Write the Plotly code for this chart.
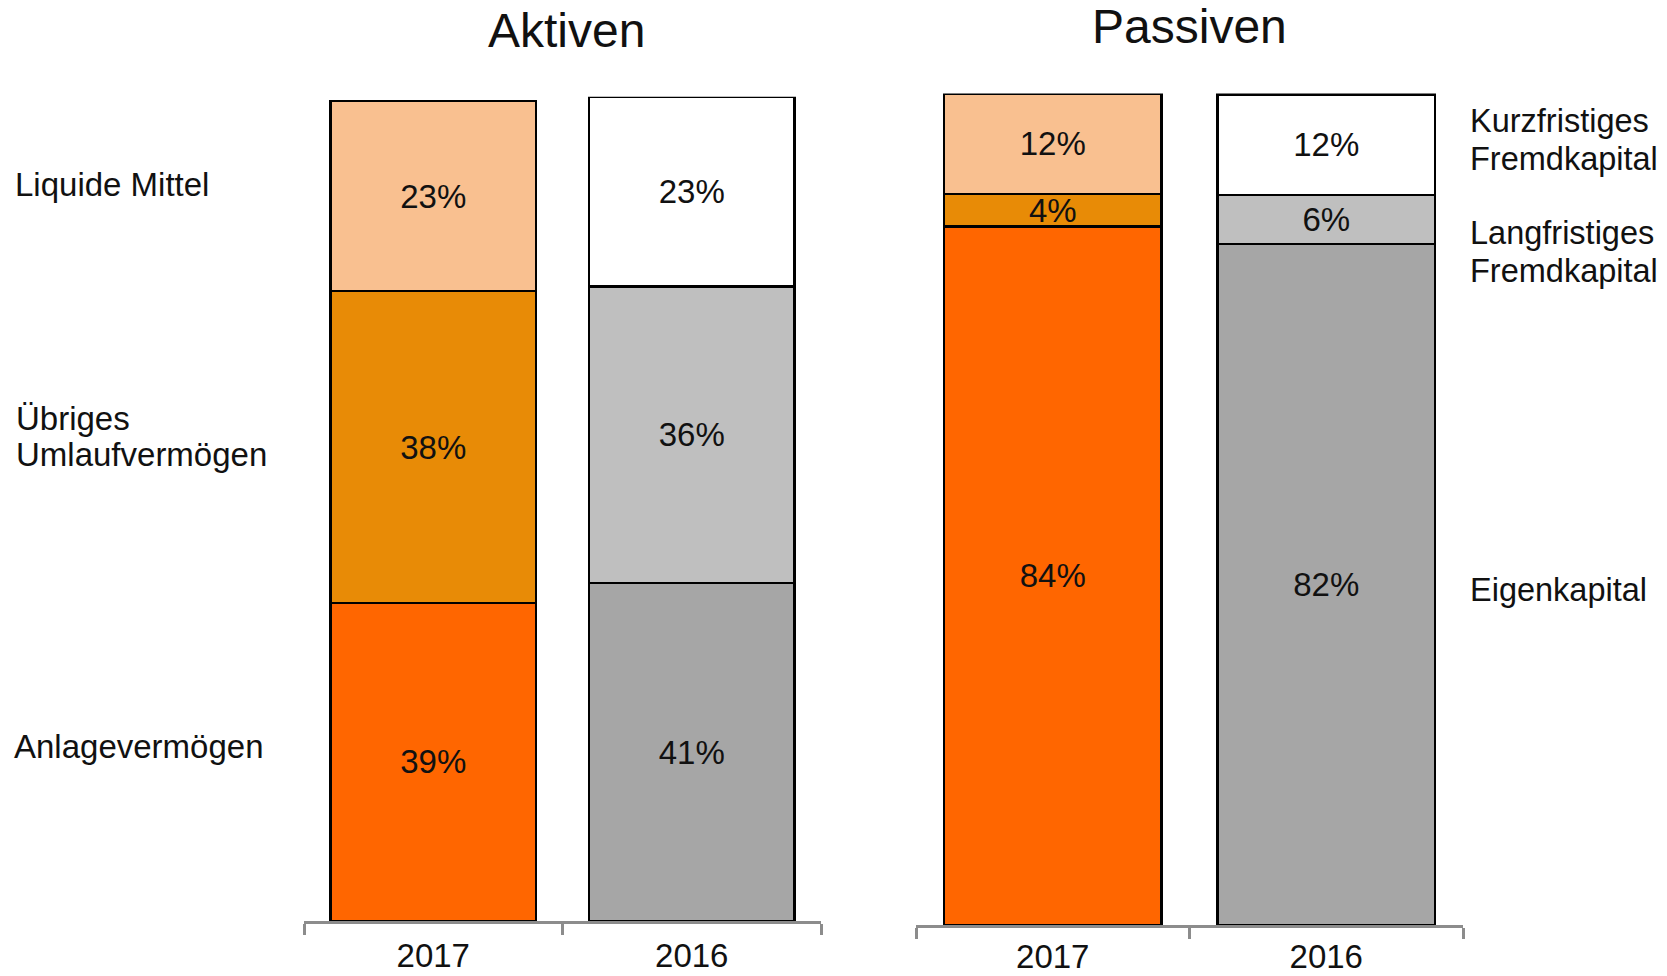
import plotly.graph_objects as go

# The page body has an 8px margin, so the figure is placed at (8, 8)
OFF = 8
W, H = 1667 - 2 * OFF, 976 - 2 * OFF

years = ["2017", "2016"]

# Aktiven (share of total) and printed labels
anlage = [38.6, 41.0]
uebrig = [37.8, 36.0]
liquide = [23.1, 23.0]
anlage_lbl = [39, 41]
uebrig_lbl = [38, 36]
liquide_lbl = [23, 23]

# Passiven
eigen = [84.0, 81.9]
lang = [3.9, 5.9]
kurz = [12.1, 12.1]
eigen_lbl = [84, 82]
lang_lbl = [4, 6]
kurz_lbl = [12, 12]

col_anlage = ["#FF6600", "#A6A6A6"]
col_uebrig = ["#E88B06", "#BFBFBF"]
col_liquide = ["#F9C090", "#FFFFFF"]

FONT = "Liberation Sans, Arial, sans-serif"
TXT = "#111111"
FS_L = 33
FS_R = 32.5


def px_x(p):
    return (p - OFF) / W


def px_y(p):
    return (H + OFF - p) / H


def bar(vals, lbls, colors, xa, ya, name):
    return go.Bar(
        x=years, y=vals, name=name,
        text=[f"{v}%" for v in lbls],
        textposition="inside", insidetextanchor="middle", textangle=0,
        textfont=dict(size=33, color=TXT, family=FONT),
        marker=dict(color=colors, line=dict(color="#000000", width=2.5)),
        xaxis=xa, yaxis=ya, hoverinfo="skip", showlegend=False,
    )


fig = go.Figure()
fig.add_trace(bar(anlage, anlage_lbl, col_anlage, "x", "y", "Anlagevermögen"))
fig.add_trace(bar(uebrig, uebrig_lbl, col_uebrig, "x", "y", "Übriges Umlaufvermögen"))
fig.add_trace(bar(liquide, liquide_lbl, col_liquide, "x", "y", "Liquide Mittel"))
fig.add_trace(bar(eigen, eigen_lbl, col_anlage, "x2", "y2", "Eigenkapital"))
fig.add_trace(bar(lang, lang_lbl, col_uebrig, "x2", "y2", "Langfristiges Fremdkapital"))
fig.add_trace(bar(kurz, kurz_lbl, col_liquide, "x2", "y2", "Kurzfristiges Fremdkapital"))

xax = dict(
    type="category", categoryorder="array", categoryarray=years,
    tickson="boundaries", ticks="outside", ticklen=11, tickwidth=3,
    tickcolor="#8C8C8C", showline=True, linecolor="#8C8C8C", linewidth=3,
    tickfont=dict(size=33, color=TXT, family=FONT), showgrid=False,
    zeroline=False, automargin=False, fixedrange=True,
)
yax = dict(range=[0, 100], visible=False, showgrid=False, zeroline=False,
           fixedrange=True)

annotations = []


def note(text, x, y, size, xanchor="left"):
    annotations.append(dict(
        text=text, x=px_x(x), y=px_y(y), xref="paper", yref="paper",
        xanchor=xanchor, yanchor="middle", showarrow=False,
        font=dict(size=size, color=TXT, family=FONT),
    ))


note("Aktiven", 566, 30, 48, xanchor="center")
note("Passiven", 1189, 27, 48, xanchor="center")
note("Liquide Mittel", 12.5, 185, FS_L)
note("Übriges", 13.5, 418, FS_L)
note("Umlaufvermögen", 13.5, 455, FS_L)
note("Anlagevermögen", 11.5, 746, FS_L)
note("Kurzfristiges", 1468, 121, FS_R)
note("Fremdkapital", 1468, 159, FS_R)
note("Langfristiges", 1468, 232.5, FS_R)
note("Fremdkapital", 1468, 270.5, FS_R)
note("Eigenkapital", 1468, 590.5, FS_R)

fig.update_layout(
    width=W, height=H,
    margin=dict(l=0, r=0, t=0, b=0),
    paper_bgcolor="white", plot_bgcolor="white",
    barmode="stack", bargap=0.205,
    uniformtext=dict(minsize=33, mode="show"),
    font=dict(family=FONT, color=TXT),
    xaxis=dict(xax, domain=[px_x(304), px_x(821)], anchor="y",
               ticklabelstandoff=3),
    yaxis=dict(yax, domain=[px_y(921), px_y(96.7)], anchor="x"),
    xaxis2=dict(xax, domain=[px_x(916), px_x(1463)], anchor="y2"),
    yaxis2=dict(yax, domain=[px_y(925), px_y(93.5)], anchor="x2"),
    annotations=annotations,
    showlegend=False,
)

fig.write_html("out.html")
